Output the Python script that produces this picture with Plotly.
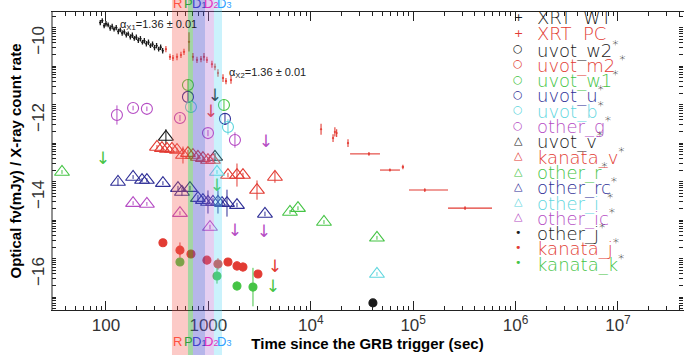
import numpy as np
import plotly.graph_objects as go

# ---------------- data (time in s, value = log flux) ----------------
xrt_wt_time = [88, 92, 96, 100, 105, 110, 115, 120, 126, 132, 138, 144, 151, 158, 165, 173,
               181, 189, 198, 207, 217, 227, 237, 248, 260, 272, 285, 298, 312, 327, 342, 358]
xrt_wt_val = [-9.47, -9.42, -9.55, -9.50, -9.53, -9.61, -9.57, -9.64, -9.60, -9.70, -9.66, -9.74,
              -9.71, -9.79, -9.76, -9.84, -9.80, -9.88, -9.85, -9.93, -9.89, -9.98, -9.94, -10.02,
              -9.98, -10.07, -10.03, -10.12, -10.07, -10.16, -10.11, -10.20]
xrt_wt_err = [0.07, 0.06, 0.07, 0.07, 0.06, 0.07, 0.07, 0.06, 0.07, 0.07, 0.06, 0.07, 0.07, 0.07,
              0.06, 0.07, 0.07, 0.06, 0.07, 0.07, 0.07, 0.06, 0.07, 0.07, 0.07, 0.06, 0.07, 0.07,
              0.07, 0.06, 0.07, 0.07]
xrt_wt_terr = [2, 2, 2, 2, 2, 2, 2, 3, 3, 3, 3, 3, 3, 3, 3, 4, 4, 4, 4, 4, 5, 5, 5, 5, 5, 6, 6, 6,
               6, 7, 7, 7]

xrt_pc_time = [385, 422, 451, 494, 540, 578, 647, 707, 774, 847, 906, 968, 1084, 1160, 1241, 1390,
               1486, 1663, 12600, 16500, 17200, 17900, 23100, 37000, 59300, 79400, 130000, 321000]
xrt_pc_val = [-10.16, -10.36, -10.39, -10.36, -10.31, -10.23, -9.97, -10.36, -10.44, -10.42, -10.36,
              -10.44, -10.55, -10.62, -10.78, -10.91, -10.99, -10.96, -12.24, -12.47, -12.31, -12.34,
              -12.60, -12.88, -13.30, -13.22, -13.82, -14.29]
xrt_pc_err = [0.08, 0.08, 0.08, 0.09, 0.08, 0.08, 0.25, 0.10, 0.08, 0.08, 0.10, 0.08, 0.09, 0.09,
              0.10, 0.10, 0.08, 0.10, 0.14, 0.10, 0.12, 0.10, 0.10, 0.05, 0.04, 0.06, 0.05, 0.05]
xrt_pc_terr_plus = [8, 8, 9, 9, 10, 11, 12, 13, 14, 15, 16, 17, 19, 20, 21, 24, 25, 28, 100, 150,
                    150, 150, 300, 10400, 15000, 2000, 89000, 268000]
xrt_pc_terr_minus = [8, 8, 9, 9, 10, 11, 12, 13, 14, 15, 16, 17, 19, 20, 21, 24, 25, 28, 100, 150,
                     150, 150, 300, 12800, 11900, 2000, 39000, 102000]

uvot_w2_ul_time = [1160]
uvot_w2_ul_val = [-11.40]
uvot_m2_ul_time = [1060]
uvot_m2_ul_val = [-11.82]
uvot_w1_time = [632, 1420]
uvot_w1_val = [-11.09, -11.61]
uvot_w1_err = [0.15, 0.15]
uvot_u_time = [632, 1453]
uvot_u_val = [-11.40, -11.97]
uvot_u_err = [0.12, 0.15]
uvot_b_time = [676, 1554]
uvot_b_val = [-11.66, -12.18]
uvot_b_err = [0.10, 0.20]
other_g_time = [128, 184, 251, 528, 991, 1818]
other_g_val = [-11.87, -11.69, -11.71, -11.95, -12.34, -12.52]
other_g_err = [0.25, 0.06, 0.06, 0.08, 0.08, 0.20]
other_g_ul_time = [3651]
other_g_ul_val = [-12.60]

uvot_v_time = [385, 1160]
uvot_v_val = [-12.44, -12.96]
uvot_v_err = [0.20, 0.10]
kanata_v_time = [315, 352, 394, 441, 494, 565, 632, 707, 791, 885, 991, 1109, 1554, 1903, 2177,
                 2985, 4469]
kanata_v_val = [-12.70, -12.73, -12.75, -12.75, -12.78, -12.91, -12.86, -12.91, -12.96, -12.99,
                -13.04, -13.04, -13.43, -13.43, -13.43, -13.82, -13.48]
kanata_v_err = [0.05, 0.05, 0.05, 0.05, 0.06, 0.22, 0.08, 0.06, 0.06, 0.06, 0.08, 0.06, 0.06, 0.30,
                0.06, 0.25, 0.15]
other_r_time = [37.2, 6265, 7500, 13460, 44300]
other_r_val = [-13.35, -14.39, -14.29, -14.65, -15.06]
other_r_err = [0.05, 0.05, 0.05, 0.05, 0.05]
other_r_ul_time = [93.5, 1214]
other_r_ul_val = [-13.04, -13.74]
other_rc_time = [131, 184, 225, 251, 360, 505, 552, 661, 791, 885, 991, 1109, 1241, 1359, 1520,
                 1903, 3570]
other_rc_val = [-13.61, -13.48, -13.56, -13.56, -13.64, -13.77, -13.87, -13.77, -14.03, -14.08,
                -14.13, -14.13, -14.13, -14.16, -14.16, -14.21, -14.44]
other_rc_err = [0.10, 0.05, 0.05, 0.05, 0.05, 0.06, 0.10, 0.06, 0.08, 0.10, 0.30, 0.10, 0.30, 0.10,
                0.35, 0.06, 0.06]
other_i_time = [1214, 44300]
other_i_val = [-13.35, -16.00]
other_i_err = [0.05, 0.05]
other_ic_time = [184, 251, 528, 1037]
other_ic_val = [-14.16, -14.18, -14.42, -14.78]
other_ic_err = [0.05, 0.05, 0.05, 0.06]
other_ic_ul_time = [1818, 3488]
other_ic_ul_val = [-14.91, -14.94]

other_j_time = [40450]
other_j_val = [-16.75]
other_j_err = [0.04]
kanata_j_time = [360, 528, 676, 968, 1241, 1554, 1903, 2177, 3050]
kanata_j_val = [-15.19, -15.38, -15.48, -15.64, -15.74, -15.69, -15.79, -15.82, -16.00]
kanata_j_err = [0.05, 0.20, 0.05, 0.08, 0.15, 0.05, 0.12, 0.12, 0.08]
kanata_j_ul_time = [4469]
kanata_j_ul_val = [-15.84]
kanata_k_time = [528, 1214, 1903, 2727]
kanata_k_val = [-15.69, -16.05, -16.31, -16.34]
kanata_k_err = [0.10, 0.20, 0.12, 0.50]
kanata_k_ul_time = [4273]
kanata_k_ul_val = [-16.36]

band_names = ["R", "P", "D<span style='font-size:9px'>1</span>",
              "D<span style='font-size:9px'>2</span>", "D<span style='font-size:9px'>3</span>"]
band_start = [441, 632, 707, 927, 1134]
band_end = [632, 707, 927, 1134, 1359]
band_label_time = [494, 635, 805, 1055, 1420]

x_tick_vals = [100, 1000, 1e4, 1e5, 1e6, 1e7]
x_tick_text = ["100", "1000", "10<sup>4</sup>", "10<sup>5</sup>", "10<sup>6</sup>", "10<sup>7</sup>"]
y_tick_vals = [-10, -12, -14, -16]

legend_names = ["XRT\u00a0\u00a0WT", "XRT\u00a0\u00a0PC", "uvot_w2", "uvot_m2", "uvot_w1", "uvot_u",
                "uvot_b", "other_g", "uvot_v", "kanata_v", "other_r", "other_rc", "other_i",
                "other_ic", "other_j", "kanata_j", "kanata_k"]
legend_stars = ["", "", "*", "\u00a0*", "*", "*", "*", "*", "*", "*", "*", "*", "\u00a0\u00a0*", "*",
                "*", "*", "*"]

# ---------------- styles ----------------
BLACK = "#1a1a1a"
RED = "#e23b33"
GREEN = "#45c445"
NAVY = "#2e2e96"
CYAN = "#5fd6de"
VIOLET = "#b54cc4"

legend_colors = [BLACK, RED, BLACK, RED, GREEN, NAVY, CYAN, VIOLET, BLACK, RED, GREEN, NAVY, CYAN,
                 VIOLET, BLACK, RED, GREEN]
legend_syms = ["+", "+", "○", "○", "○", "○", "○", "○", "△", "△", "△", "△", "△", "△", "•", "•", "•"]
band_fill = ["rgba(245,90,80,0.32)", "rgba(50,165,50,0.45)", "rgba(80,80,205,0.42)",
             "rgba(175,105,210,0.32)", "rgba(90,215,245,0.32)"]
band_text = ["#ff5040", "#30a040", "#4040c8", "#e030c0", "#30a0ff"]

fig = go.Figure()


def points(t, v, ey, symbol, color, size, ex=None, exm=None, lw=1.1, et=1.0):
    err_x = None
    if ex is not None:
        err_x = dict(type="data", array=ex, arrayminus=exm if exm is not None else ex,
                     color=color, thickness=et, width=0)
    fig.add_trace(go.Scatter(
        x=t, y=v, mode="markers", showlegend=False,
        marker=dict(symbol=symbol, size=size, color=color,
                    line=dict(color=color, width=lw)),
        error_y=dict(type="data", array=ey, color=color, thickness=et, width=0),
        error_x=err_x))


def limits(t, v, color):
    fig.add_trace(go.Scatter(
        x=t, y=v, mode="text", text=["↓"] * len(t), showlegend=False,
        textfont=dict(color=color, size=17, family="DejaVu Sans")))


points(xrt_wt_time, xrt_wt_val, xrt_wt_err, "circle", BLACK, 1.5, ex=xrt_wt_terr, lw=0.5, et=1.3)
points(xrt_pc_time, xrt_pc_val, xrt_pc_err, "circle", RED, 1.5, ex=xrt_pc_terr_plus,
       exm=xrt_pc_terr_minus, lw=0.5, et=1.1)

points(uvot_w1_time, uvot_w1_val, uvot_w1_err, "circle-open", GREEN, 11)
points(uvot_u_time, uvot_u_val, uvot_u_err, "circle-open", NAVY, 11)
points(uvot_b_time, uvot_b_val, uvot_b_err, "circle-open", CYAN, 11)
points(other_g_time, other_g_val, other_g_err, "circle-open", VIOLET, 11)
limits(uvot_w2_ul_time, uvot_w2_ul_val, BLACK)
limits(uvot_m2_ul_time, uvot_m2_ul_val, RED)
limits(other_g_ul_time, other_g_ul_val, VIOLET)

points(uvot_v_time, uvot_v_val, uvot_v_err, "triangle-up-open", BLACK, 13)
points(kanata_v_time, kanata_v_val, kanata_v_err, "triangle-up-open", RED, 13)
points(other_r_time, other_r_val, other_r_err, "triangle-up-open", GREEN, 13)
points(other_rc_time, other_rc_val, other_rc_err, "triangle-up-open", NAVY, 13)
points(other_i_time, other_i_val, other_i_err, "triangle-up-open", CYAN, 13)
points(other_ic_time, other_ic_val, other_ic_err, "triangle-up-open", VIOLET, 13)
limits(other_r_ul_time, other_r_ul_val, GREEN)
limits(other_ic_ul_time, other_ic_ul_val, VIOLET)

points(other_j_time, other_j_val, other_j_err, "circle", BLACK, 8)
points(kanata_j_time, kanata_j_val, kanata_j_err, "circle", RED, 8)
points(kanata_k_time, kanata_k_val, kanata_k_err, "circle", GREEN, 8)
limits(kanata_j_ul_time, kanata_j_ul_val, RED)
limits(kanata_k_ul_time, kanata_k_ul_val, GREEN)

# ---------------- bands ----------------
for s, e, fc in zip(band_start, band_end, band_fill):
    fig.add_shape(type="rect", xref="x", yref="paper", x0=s, x1=e, y0=-0.16, y1=1.05,
                  fillcolor=fc, line=dict(width=0), layer="above")

annotations = []
for name, lt, col in zip(band_names, band_label_time, band_text):
    for yp in (1.027, -0.107):
        annotations.append(dict(x=np.log10(lt), y=yp, xref="x", yref="paper", text=name,
                                showarrow=False, borderpad=0,
                                font=dict(family="Liberation Sans", size=13, color=col),
                                xanchor="center", yanchor="middle"))

annotations.append(dict(x=np.log10(132), y=-9.53, xref="x", yref="y",
                        text="α<sub>X1</sub>=1.36 ± 0.01", showarrow=False, xanchor="left",
                        font=dict(family="Liberation Sans", size=11, color="#222")))
annotations.append(dict(x=np.log10(1520), y=-10.78, xref="x", yref="y",
                        text="α<sub>X2</sub>=1.36 ± 0.01", showarrow=False, xanchor="left",
                        font=dict(family="Liberation Sans", size=11, color="#222")))

# legend drawn as text
for i, (nm, st, col, sy) in enumerate(zip(legend_names, legend_stars, legend_colors, legend_syms)):
    ypix = 18 + 15.3 * i
    yp = (310 - ypix) / 298
    annotations.append(dict(x=(518 - 52) / 631, y=yp, xref="paper", yref="paper", text=sy,
                            showarrow=False, xanchor="center", yanchor="middle",
                            font=dict(family="DejaVu Sans", size=11, color=col)))
    star = "<sup><span style='color:#111'>%s</span></sup>" % st if st else ""
    annotations.append(dict(x=(535 - 52) / 631, y=yp, xref="paper", yref="paper",
                            text=nm + star, showarrow=False, xanchor="left", yanchor="middle",
                            font=dict(family="DejaVu Sans", size=18, color=col, weight=200)))

# y axis decoration: log-like tick clusters
minor_y = []
for base in np.arange(-17.6, -8.5, 1.0):
    for k in range(1, 10):
        minor_y.append(round(base + np.log10(k), 4))
minor_x = [k * 10.0 ** n for n in range(1, 8) for k in range(2, 10)]

fig.add_shape(type="line", xref="paper", yref="paper", x0=0, x1=0, y0=0, y1=1,
              line=dict(color="#222", width=1))

fig.update_layout(
    width=688, height=355,
    margin=dict(l=52, r=5, t=12, b=45, autoexpand=False),
    paper_bgcolor="white", plot_bgcolor="white",
    showlegend=False,
    annotations=annotations,
    xaxis=dict(type="log", range=[1.473, 7.635], tickmode="array", tickvals=x_tick_vals,
               ticktext=x_tick_text, ticks="inside", ticklen=9, tickcolor="#222", tickwidth=1,
               showline=True, linecolor="#222", linewidth=1, mirror="ticks", showgrid=False,
               zeroline=False, automargin=False,
               minor=dict(tickmode="array", tickvals=minor_x, ticks="inside", ticklen=4,
                          tickcolor="#222", showgrid=False),
               tickfont=dict(family="Liberation Sans", size=17, color="#333"),
               title=dict(text="<b>Time since the GRB trigger (sec)</b>", standoff=3,
                          font=dict(family="Liberation Sans", size=15, color="black"))),
    yaxis=dict(range=[-16.935, -9.195], tickmode="array", tickvals=y_tick_vals, ticks="",
               tickangle=-90, showline=True, linecolor="rgba(0,0,0,0)", mirror="ticks",
               showgrid=False, zeroline=False, automargin=False,
               minor=dict(tickmode="array", tickvals=minor_y, ticks="inside", ticklen=4,
                          tickcolor="#222", showgrid=False),
               tickfont=dict(family="Liberation Sans", size=17, color="#333"),
               title=dict(text="<b>Optical fν(mJy) / X-ray count rate</b>", standoff=3,
                          font=dict(family="Liberation Sans", size=15, color="black"))),
)

fig.write_html("out.html", config={"displayModeBar": False},
               post_script="document.body.style.margin='0px';")
